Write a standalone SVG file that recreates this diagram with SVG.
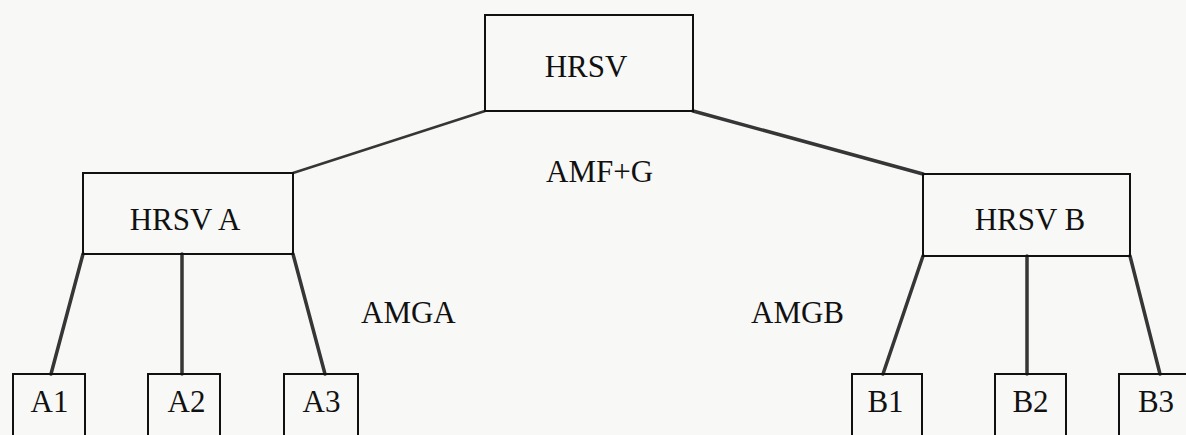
<svg xmlns="http://www.w3.org/2000/svg" width="1186" height="435" viewBox="0 0 1186 435">
  <style>
    .box { fill: none; stroke: #111; stroke-width: 2; }
    .link { stroke: #363636; stroke-width: 3.5; stroke-linecap: round; }
    .thin { stroke-width: 2.4; }
    .lbl { font-family: "Liberation Serif", "Times New Roman", serif; font-size: 31px; fill: #111; }
    .mid { text-anchor: middle; }
  </style>
  <rect x="0" y="0" width="1186" height="435" fill="#f8f8f6"/>

  <g id="connectors">
    <line class="link thin" x1="485" y1="111" x2="293" y2="173"/>
    <line class="link" x1="693" y1="111" x2="923" y2="174"/>
    <line class="link" x1="83" y1="254" x2="51" y2="374"/>
    <line class="link" x1="182" y1="254" x2="182" y2="374"/>
    <line class="link" x1="293" y1="254" x2="325" y2="374"/>
    <line class="link" x1="923" y1="256" x2="883" y2="374"/>
    <line class="link" x1="1027" y1="256" x2="1027" y2="374"/>
    <line class="link" x1="1130" y1="256" x2="1160" y2="374"/>
  </g>

  <g id="hrsv">
    <rect class="box" x="485" y="15" width="208" height="96"/>
    <text class="lbl mid" x="586" y="77">HRSV</text>
  </g>
  <g id="hrsv-a">
    <rect class="box" x="83" y="173" width="210" height="81"/>
    <text class="lbl mid" x="185" y="230">HRSV A</text>
  </g>
  <g id="hrsv-b">
    <rect class="box" x="923" y="174" width="207" height="82"/>
    <text class="lbl mid" x="1030" y="230">HRSV B</text>
  </g>

  <g id="a1">
    <rect class="box" x="13" y="374" width="72" height="70"/>
    <text class="lbl mid" x="49.5" y="412">A1</text>
  </g>
  <g id="a2">
    <rect class="box" x="148" y="374" width="72" height="70"/>
    <text class="lbl mid" x="186.5" y="412">A2</text>
  </g>
  <g id="a3">
    <rect class="box" x="284" y="374" width="74" height="70"/>
    <text class="lbl mid" x="321.5" y="412">A3</text>
  </g>
  <g id="b1">
    <rect class="box" x="852" y="374" width="70" height="70"/>
    <text class="lbl mid" x="885.5" y="412">B1</text>
  </g>
  <g id="b2">
    <rect class="box" x="995" y="374" width="71" height="70"/>
    <text class="lbl mid" x="1030.5" y="412">B2</text>
  </g>
  <g id="b3">
    <rect class="box" x="1119" y="374" width="80" height="70"/>
    <text class="lbl mid" x="1156" y="412">B3</text>
  </g>

  <g id="edge-labels">
    <text class="lbl" x="546" y="182">AMF+G</text>
    <text class="lbl" x="361" y="323">AMGA</text>
    <text class="lbl" x="751" y="323">AMGB</text>
  </g>
</svg>
